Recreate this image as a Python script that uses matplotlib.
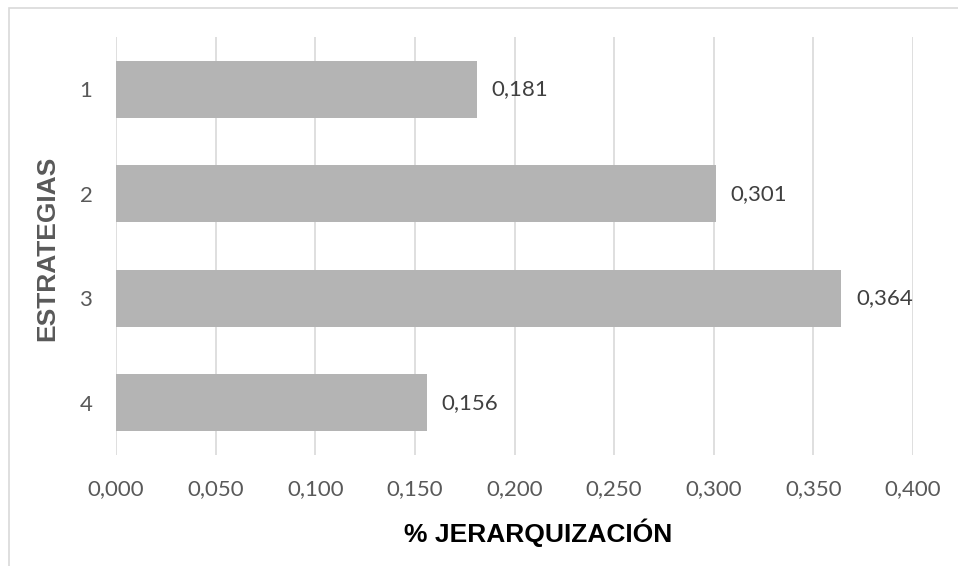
import numpy as np
import matplotlib.pyplot as plt
from matplotlib.patches import Rectangle

estrategias = ['1', '2', '3', '4']
jerarquia = [0.181, 0.301, 0.364, 0.156]
ticks = np.arange(0, 0.401, 0.05)

W, H = 958, 566
fig = plt.figure(figsize=(W / 100, H / 100), dpi=100)

# borde del gráfico (cortado a la derecha y abajo)
fig.patches.append(Rectangle((9 / W, -0.1), 1.2, 1 - 8 / H + 0.1, transform=fig.transFigure,
                             fill=False, edgecolor='#D9D9D9', linewidth=1.2))

ax = fig.add_axes([116 / W, 1 - 455 / H, (913 - 116) / W, (455 - 37) / H])
y = np.arange(len(estrategias))
ax.barh(y, jerarquia, height=0.55, color='#B4B4B4', zorder=2)
ax.set_ylim(len(estrategias) - 0.5, -0.5)
ax.set_xlim(0, 0.4)
ax.set_xticks(ticks)
ax.set_xticklabels(['{:.3f}'.format(t).replace('.', ',') for t in ticks],
                   fontsize=16, color='#595959', family='Lato')
ax.set_yticks(y)
ax.set_yticklabels(estrategias, fontsize=16, color='#595959', family='Lato')
ax.tick_params(length=0, pad=17, axis='x')
ax.tick_params(length=0, pad=17, axis='y')
ax.grid(axis='x', color='#D9D9D9', linewidth=1.2, zorder=0)
for s in ax.spines.values():
    s.set_visible(False)

for yi, v in zip(y, jerarquia):
    ax.text(v + 0.0075, yi, '{:.3f}'.format(v).replace('.', ','), va='center', ha='left',
            fontsize=16, color='#404040', family='Lato')

fig.text(538 / W, 1 - 533 / H, '% JERARQUIZACIÓN', ha='center', va='center',
         fontsize=19, fontweight='bold', family='Liberation Sans', color='black')
fig.text(47 / W, 1 - 248 / H, 'ESTRATEGIAS', ha='center', va='center', rotation=90,
         fontsize=19, fontweight='bold', family='Liberation Sans', color='#595959')

fig.savefig('out.png', dpi=100)
